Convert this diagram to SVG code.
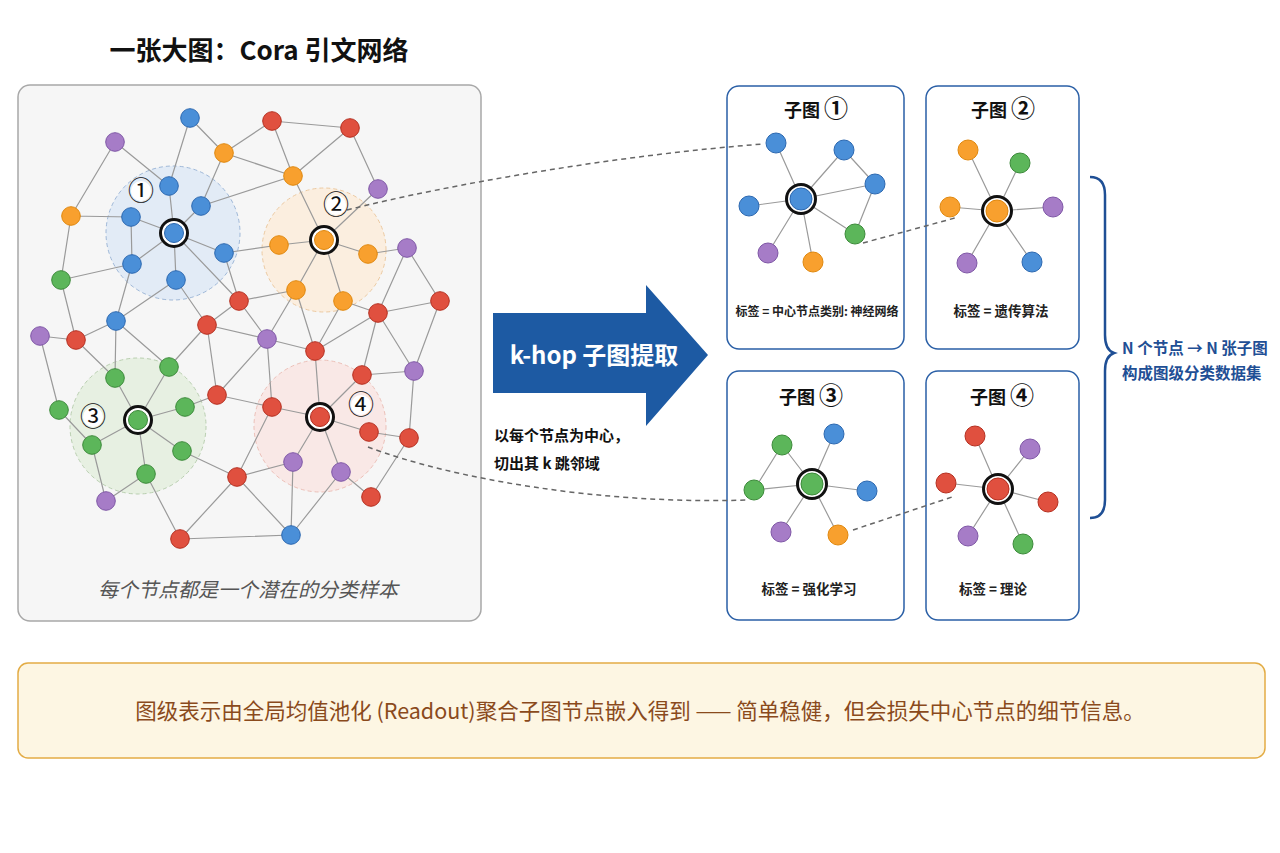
<svg xmlns="http://www.w3.org/2000/svg" width="1280" height="853" viewBox="0 0 1280 853">
<style>
text{font-family:"Noto Sans CJK SC","Noto Sans",sans-serif}
.e{stroke:#9a9a9a;stroke-width:1.2;fill:none}
.d{stroke:#666;stroke-width:1.5;fill:none;stroke-dasharray:5 4}
.b{fill:#4a8fd8;stroke:#2c68b0;stroke-width:1}
.o{fill:#f8a02e;stroke:#e0880e;stroke-width:1}
.g{fill:#5cb65a;stroke:#3c8a3a;stroke-width:1}
.r{fill:#e0503f;stroke:#b52f20;stroke-width:1}
.p{fill:#a67cc7;stroke:#7f57a6;stroke-width:1}
.ring{fill:#fff;stroke:#111;stroke-width:3}
.panel{fill:#fff;stroke:#2a5fa6;stroke-width:1.5}
.pt{font-size:18px;font-weight:bold;fill:#111;text-anchor:middle}
.cn{font-size:24px}
.pl{font-size:13.5px;font-weight:bold;fill:#222;text-anchor:middle}
.num{font-size:26px;fill:#111;text-anchor:middle}
</style>
<rect width="1280" height="853" fill="#fff"/>
<text x="259" y="60" font-size="26" font-weight="bold" fill="#111" text-anchor="middle">一张大图：Cora 引文网络</text>
<g id="big-graph-panel">
<rect x="18" y="85" width="463" height="536" rx="12" fill="#f6f6f6" stroke="#a8a8a8" stroke-width="1.5"/>
<circle cx="173" cy="233" r="67" fill="#dbe7f5" fill-opacity="0.75" stroke="#9fb8d8" stroke-width="1" stroke-dasharray="4 3"/>
<circle cx="324" cy="250" r="62" fill="#fdebd6" fill-opacity="0.7" stroke="#ecc9a0" stroke-width="1" stroke-dasharray="4 3"/>
<circle cx="138" cy="426" r="68" fill="#e2eedb" fill-opacity="0.75" stroke="#b9cfb0" stroke-width="1" stroke-dasharray="4 3"/>
<circle cx="320" cy="426" r="66" fill="#fbe3df" fill-opacity="0.7" stroke="#ecc0b8" stroke-width="1" stroke-dasharray="4 3"/>
<text x="248" y="597" font-size="20" font-style="italic" fill="#555" text-anchor="middle">每个节点都是一个潜在的分类样本</text>
</g>
<g id="subgraph-frames">
<rect id="frame-1" class="panel" x="727" y="86" width="177" height="263" rx="12"/>
<rect id="frame-2" class="panel" x="926" y="86" width="153" height="263" rx="12"/>
<rect id="frame-3" class="panel" x="727" y="371" width="177" height="249" rx="12"/>
<rect id="frame-4" class="panel" x="926" y="371" width="153" height="249" rx="12"/>
</g>
<g id="connectors">
<path class="e" d="M190,118L169,186M190,118L224,153M224,153L201,206M224,153L272,121M224,153L293,176M201,206L293,176M115,142L169,186M115,142L71,216M71,216L131,217M71,216L61,280M131,217L174,233M131,217L132,264M169,186L174,233M201,206L174,233M174,233L224,253M174,233L132,264M174,233L176,280M174,233L239,301M224,253L279,245M224,253L239,301M61,280L132,264M61,280L76,340M132,264L116,321M176,280L116,321M176,280L207,325M239,301L207,325M239,301L296,290M239,301L267,339M272,121L293,176M272,121L350,128M350,128L293,176M350,128L378,189M293,176L324,240M378,189L324,240M324,240L279,245M324,240L368,254M324,240L296,290M324,240L343,301M368,254L407,248M407,248L378,313M407,248L440,301M296,290L267,339M296,290L315,351M343,301L378,313M343,301L315,351M378,313L440,301M440,301L414,371M40,336L76,340M40,336L59,410M76,340L116,321M76,340L115,378M116,321L115,378M116,321L169,367M207,325L169,367M207,325L217,395M207,325L267,339M267,339L217,395M217,395L185,407M217,395L272,407M169,367L138,420M115,378L138,420M185,407L138,420M138,420L92,445M138,420L182,451M138,420L146,474M59,410L92,445M92,445L106,501M106,501L146,474M146,474L180,539M182,451L237,477M237,477L180,539M180,539L291,535M237,477L272,407M237,477L293,462M237,477L291,535M267,339L315,351M267,339L272,407M315,351L378,313M315,351L320,417M378,313L362,375M378,313L414,371M362,375L414,371M362,375L320,417M272,407L320,417M320,417L369,432M320,417L293,462M320,417L341,472M369,432L409,438M414,371L409,438M409,438L371,497M341,472L371,497M341,472L291,535M293,462L291,535"/>
<path class="e" d="M801,199L776,143M801,199L844,150M801,199L875,184M801,199L749,206M801,199L855,234M801,199L768,253M801,199L813,262M844,150L875,184M875,184L855,234"/>
<path class="e" d="M997,211L968,150M997,211L1020,163M997,211L950,207M997,211L1053,207M997,211L967,263M997,211L1032,262"/>
<path class="e" d="M812,484L834,434M812,484L782,445M812,484L754,490M812,484L867,491M812,484L781,532M812,484L838,535M782,445L754,490"/>
<path class="e" d="M998,489L975,436M998,489L1030,449M998,489L946,483M998,489L1048,502M998,489L968,536M998,489L1023,544"/>
<path class="d" d="M347,210C450,184 620,155 763,144"/>
<path class="d" d="M368,447C450,478 600,505 748,500"/>
<path class="d" d="M863,243L955,218"/>
<path class="d" d="M853,530L952,497"/>
</g>
<g id="big-graph-nodes">
<g id="n-L1"><circle class="b" cx="190" cy="118" r="9.3"/></g>
<g id="n-L2"><circle class="b" cx="169" cy="186" r="9.3"/></g>
<g id="n-L3"><circle class="b" cx="201" cy="206" r="9.3"/></g>
<g id="n-L4"><circle class="b" cx="131" cy="217" r="9.3"/></g>
<g id="n-L5"><circle class="b" cx="224" cy="253" r="9.3"/></g>
<g id="n-L6"><circle class="b" cx="132" cy="264" r="9.3"/></g>
<g id="n-L7"><circle class="b" cx="176" cy="280" r="9.3"/></g>
<g id="n-L8"><circle class="b" cx="116" cy="321" r="9.3"/></g>
<g id="n-L9"><circle class="b" cx="291" cy="535" r="9.3"/></g>
<g id="n-P1"><circle class="p" cx="115" cy="142" r="9.3"/></g>
<g id="n-P2"><circle class="p" cx="378" cy="189" r="9.3"/></g>
<g id="n-P3"><circle class="p" cx="407" cy="248" r="9.3"/></g>
<g id="n-P4"><circle class="p" cx="40" cy="336" r="9.3"/></g>
<g id="n-P5"><circle class="p" cx="267" cy="339" r="9.3"/></g>
<g id="n-P6"><circle class="p" cx="414" cy="371" r="9.3"/></g>
<g id="n-P7"><circle class="p" cx="293" cy="462" r="9.3"/></g>
<g id="n-P8"><circle class="p" cx="341" cy="472" r="9.3"/></g>
<g id="n-P9"><circle class="p" cx="106" cy="501" r="9.3"/></g>
<g id="n-O1"><circle class="o" cx="224" cy="153" r="9.3"/></g>
<g id="n-O2"><circle class="o" cx="71" cy="216" r="9.3"/></g>
<g id="n-O3"><circle class="o" cx="293" cy="176" r="9.3"/></g>
<g id="n-O4"><circle class="o" cx="279" cy="245" r="9.3"/></g>
<g id="n-O5"><circle class="o" cx="368" cy="254" r="9.3"/></g>
<g id="n-O6"><circle class="o" cx="296" cy="290" r="9.3"/></g>
<g id="n-O7"><circle class="o" cx="343" cy="301" r="9.3"/></g>
<g id="n-G1"><circle class="g" cx="61" cy="280" r="9.3"/></g>
<g id="n-G2"><circle class="g" cx="169" cy="367" r="9.3"/></g>
<g id="n-G3"><circle class="g" cx="115" cy="378" r="9.3"/></g>
<g id="n-G4"><circle class="g" cx="59" cy="410" r="9.3"/></g>
<g id="n-G5"><circle class="g" cx="185" cy="407" r="9.3"/></g>
<g id="n-G6"><circle class="g" cx="92" cy="445" r="9.3"/></g>
<g id="n-G7"><circle class="g" cx="182" cy="451" r="9.3"/></g>
<g id="n-G8"><circle class="g" cx="146" cy="474" r="9.3"/></g>
<g id="n-R1"><circle class="r" cx="272" cy="121" r="9.3"/></g>
<g id="n-R2"><circle class="r" cx="350" cy="128" r="9.3"/></g>
<g id="n-R3"><circle class="r" cx="239" cy="301" r="9.3"/></g>
<g id="n-R4"><circle class="r" cx="440" cy="301" r="9.3"/></g>
<g id="n-R5"><circle class="r" cx="378" cy="313" r="9.3"/></g>
<g id="n-R6"><circle class="r" cx="207" cy="325" r="9.3"/></g>
<g id="n-R7"><circle class="r" cx="76" cy="340" r="9.3"/></g>
<g id="n-R8"><circle class="r" cx="315" cy="351" r="9.3"/></g>
<g id="n-R9"><circle class="r" cx="362" cy="375" r="9.3"/></g>
<g id="n-R10"><circle class="r" cx="217" cy="395" r="9.3"/></g>
<g id="n-R11"><circle class="r" cx="272" cy="407" r="9.3"/></g>
<g id="n-R12"><circle class="r" cx="369" cy="432" r="9.3"/></g>
<g id="n-R13"><circle class="r" cx="409" cy="438" r="9.3"/></g>
<g id="n-R14"><circle class="r" cx="237" cy="477" r="9.3"/></g>
<g id="n-R15"><circle class="r" cx="371" cy="497" r="9.3"/></g>
<g id="n-R16"><circle class="r" cx="180" cy="539" r="9.3"/></g>
<g id="center-1"><circle class="ring" cx="174" cy="233" r="13.5"/><circle class="b" cx="174" cy="233" r="9.5"/></g>
<g id="center-2"><circle class="ring" cx="324" cy="240" r="13.5"/><circle class="o" cx="324" cy="240" r="9.5"/></g>
<g id="center-3"><circle class="ring" cx="138" cy="420" r="13.5"/><circle class="g" cx="138" cy="420" r="9.5"/></g>
<g id="center-4"><circle class="ring" cx="320" cy="417" r="13.5"/><circle class="r" cx="320" cy="417" r="9.5"/></g>
<g id="label-1"><circle cx="141" cy="191" r="10" fill="#fff"/><text class="num" x="141" y="200">①</text></g>
<g id="label-2"><circle cx="336" cy="205" r="10" fill="#fff"/><text class="num" x="336" y="214">②</text></g>
<g id="label-3"><circle cx="93" cy="417" r="10" fill="#fff"/><text class="num" x="93" y="426">③</text></g>
<g id="label-4"><circle cx="361" cy="405" r="10" fill="#fff"/><text class="num" x="361" y="414">④</text></g>
</g>
<g id="extract-arrow">
<polygon points="493,313 646,313 646,285 708,355 646,426 646,393 493,393" fill="#1d5aa3"/>
<text x="594" y="364" font-size="24" font-weight="bold" fill="#fff" text-anchor="middle">k-hop 子图提取</text>
<text x="494" y="441" font-size="15" font-weight="bold" fill="#111">以每个节点为中心，</text>
<text x="494" y="469" font-size="15" font-weight="bold" fill="#111">切出其 k 跳邻域</text>
</g>
<g id="subgraph-1">
<text class="pt" x="816" y="117">子图 <tspan class="cn">①</tspan></text>
<circle class="b" cx="776" cy="143" r="10"/><circle class="b" cx="844" cy="150" r="10"/><circle class="b" cx="875" cy="184" r="10"/><circle class="b" cx="749" cy="206" r="10"/><circle class="g" cx="855" cy="234" r="10"/><circle class="p" cx="768" cy="253" r="10"/><circle class="o" cx="813" cy="262" r="10"/>
<circle class="ring" cx="801" cy="199" r="14.5"/><circle class="b" cx="801" cy="199" r="11"/>
<text class="pl" x="817" y="316" style="font-size:12px">标签 = 中心节点类别: 神经网络</text>
</g>
<g id="subgraph-2">
<text class="pt" x="1003" y="117">子图 <tspan class="cn">②</tspan></text>
<circle class="o" cx="968" cy="150" r="10"/><circle class="g" cx="1020" cy="163" r="10"/><circle class="o" cx="950" cy="207" r="10"/><circle class="p" cx="1053" cy="207" r="10"/><circle class="p" cx="967" cy="263" r="10"/><circle class="b" cx="1032" cy="262" r="10"/>
<circle class="ring" cx="997" cy="211" r="14.5"/><circle class="o" cx="997" cy="211" r="11"/>
<text class="pl" x="1001" y="316">标签 = 遗传算法</text>
</g>
<g id="subgraph-3">
<text class="pt" x="811" y="404">子图 <tspan class="cn">③</tspan></text>
<circle class="b" cx="834" cy="434" r="10"/><circle class="g" cx="782" cy="445" r="10"/><circle class="g" cx="754" cy="490" r="10"/><circle class="b" cx="867" cy="491" r="10"/><circle class="p" cx="781" cy="532" r="10"/><circle class="o" cx="838" cy="535" r="10"/>
<circle class="ring" cx="812" cy="484" r="14.5"/><circle class="g" cx="812" cy="484" r="11"/>
<text class="pl" x="809" y="594">标签 = 强化学习</text>
</g>
<g id="subgraph-4">
<text class="pt" x="1002" y="404">子图 <tspan class="cn">④</tspan></text>
<circle class="r" cx="975" cy="436" r="10"/><circle class="p" cx="1030" cy="449" r="10"/><circle class="r" cx="946" cy="483" r="10"/><circle class="r" cx="1048" cy="502" r="10"/><circle class="p" cx="968" cy="536" r="10"/><circle class="g" cx="1023" cy="544" r="10"/>
<circle class="ring" cx="998" cy="489" r="14.5"/><circle class="r" cx="998" cy="489" r="11"/>
<text class="pl" x="993" y="594">标签 = 理论</text>
</g>
<g id="dataset-brace">
<path d="M1090,177Q1105,177 1105,195L1105,335Q1105,350 1114,353Q1105,356 1105,371L1105,500Q1105,518 1090,518" fill="none" stroke="#1f4f95" stroke-width="2.5"/>
<text x="1122" y="354" font-size="15.5" font-weight="bold" fill="#1f4f95">N 个节点 → N 张子图</text>
<text x="1122" y="379" font-size="15.5" font-weight="bold" fill="#1f4f95">构成图级分类数据集</text>
</g>
<g id="readout-note">
<rect x="18" y="663" width="1247" height="95" rx="10" fill="#fdf6e3" stroke="#e3ac45" stroke-width="1.5"/>
<text x="640" y="719" font-size="21.5" fill="#8a4a1c" text-anchor="middle">图级表示由全局均值池化 (Readout)聚合子图节点嵌入得到 —— 简单稳健，但会损失中心节点的细节信息。</text>
</g>
</svg>
